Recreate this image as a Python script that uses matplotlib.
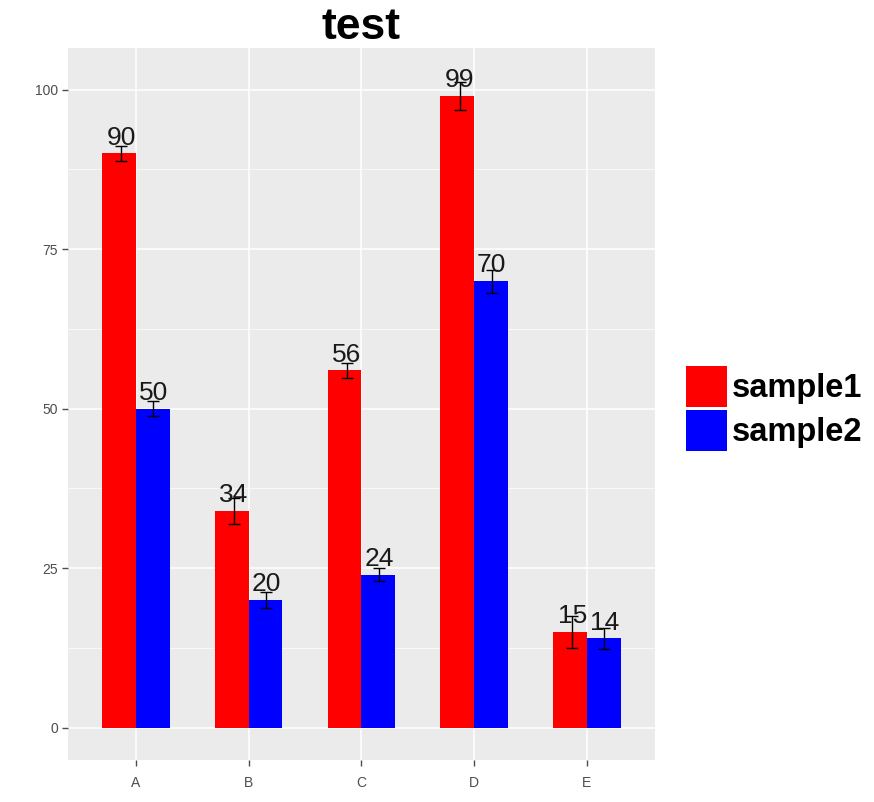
import matplotlib.pyplot as plt
import numpy as np
from matplotlib.patches import Patch

plt.rcParams['font.family'] = ['Liberation Sans', 'DejaVu Sans']

categories = ['A', 'B', 'C', 'D', 'E']
sample1 = [90, 34, 56, 99, 15]
sample2 = [50, 20, 24, 70, 14]
err1 = [1.2, 2.0, 1.2, 2.2, 2.5]
err2 = [1.2, 1.2, 1.0, 1.8, 1.6]

fig = plt.figure(figsize=(8.74, 8.02), dpi=100)
ax = fig.add_axes([0.078, 0.052, 0.671, 0.888])
ax.set_facecolor('#EBEBEB')

x = np.arange(1, len(categories) + 1)
w = 0.3

ax.bar(x - w / 2, sample1, width=w, color='#FF0000', zorder=2)
ax.bar(x + w / 2, sample2, width=w, color='#0000FF', zorder=2)
ax.errorbar(x - w / 2 + 0.02, sample1, yerr=err1, fmt='none', ecolor='black',
            elinewidth=1, capsize=4.5, capthick=1, zorder=3)
ax.errorbar(x + w / 2 + 0.005, sample2, yerr=err2, fmt='none', ecolor='black',
            elinewidth=1, capsize=4.5, capthick=1, zorder=3)

for xi, v in zip(x - w / 2 + 0.02, sample1):
    ax.text(xi, v + 0.6, str(v), ha='center', va='bottom', fontsize=19,
            color='#1a1a1a', zorder=4)
for xi, v in zip(x + w / 2 + 0.005, sample2):
    ax.text(xi, v + 0.6, str(v), ha='center', va='bottom', fontsize=19,
            color='#1a1a1a', zorder=4)

ax.set_xlim(0.4, 5.6)
ax.set_ylim(-5.1, 106.5)
ax.set_xticks(x)
ax.set_xticklabels(categories)
ax.set_yticks([0, 25, 50, 75, 100])
ax.set_yticks([12.5, 37.5, 62.5, 87.5], minor=True)
ax.grid(which='major', color='white', linewidth=1.1, zorder=0)
ax.grid(which='minor', axis='y', color='white', linewidth=0.5, zorder=0)
ax.set_axisbelow(True)
ax.tick_params(axis='both', which='major', colors='#4D4D4D', labelsize=10,
               length=4, width=1)
ax.tick_params(axis='y', which='minor', length=0)
ax.tick_params(axis='x', pad=7)
for s in ax.spines.values():
    s.set_visible(False)

ax.set_title('test', fontsize=32, fontweight='bold', pad=4)

handles = [Patch(facecolor='#FF0000', label='sample1'),
           Patch(facecolor='#0000FF', label='sample2')]
fig.legend(handles=handles, loc='center left', bbox_to_anchor=(0.785, 0.4907),
           frameon=False, prop={'weight': 'bold', 'size': 23.5},
           handlelength=1.26, handleheight=1.57, labelspacing=0.09,
           handletextpad=0.15, borderaxespad=0, borderpad=0)

fig.savefig('out.png', dpi=100)
